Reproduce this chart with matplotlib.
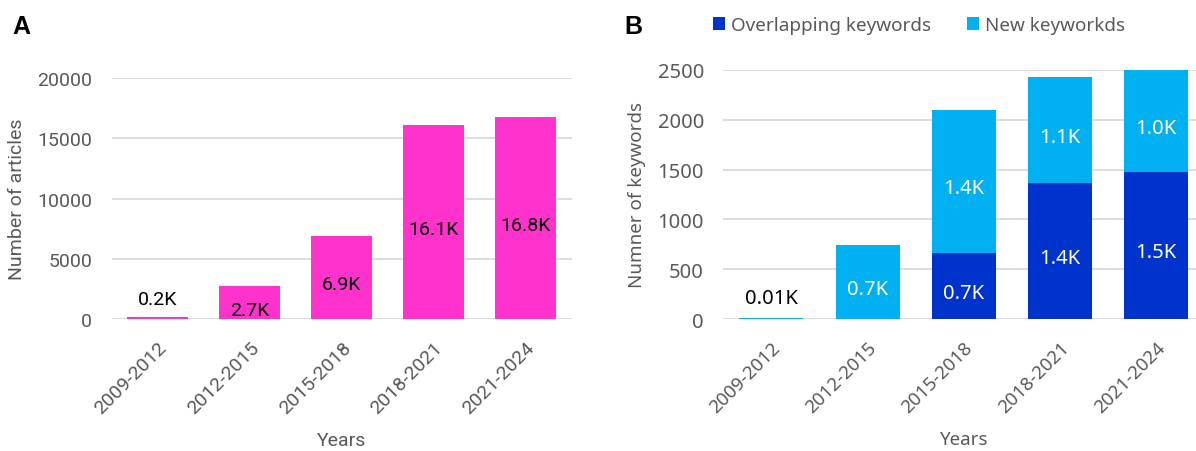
import matplotlib
matplotlib.use("Agg")
import matplotlib.pyplot as plt
import numpy as np

# Data
periods = ["2009-2012", "2012-2015", "2015-2018", "2018-2021", "2021-2024"]
articles = [200, 2700, 6900, 16100, 16800]
overlap_kw = [0, 0, 660, 1370, 1480]
new_kw = [10, 740, 1440, 1060, 1020]

article_ticks = [0, 5000, 10000, 15000, 20000]
keyword_ticks = [0, 500, 1000, 1500, 2000, 2500]

PINK = "#FF33CC"
DARK_BLUE = "#0033CC"
LIGHT_BLUE = "#00B0F0"
GRID = "#D9D9D9"
TXT = "#595959"


def kfmt(v):
    return f"{v/1000:.2f}K" if v < 100 else f"{v/1000:.1f}K"


fig = plt.figure(figsize=(11.96, 4.52), dpi=100)

fontA = ["Roboto", "DejaVu Sans"]
fontB = ["Noto Sans", "DejaVu Sans"]


def style_axes(ax, ticks, family, fs):
    ax.set_ylim(ticks[0], ticks[-1])
    ax.set_yticks(ticks)
    ax.set_xlim(-0.5, len(periods) - 0.5)
    ax.set_xticks(range(len(periods)))
    ax.set_xticklabels(periods, rotation=45, ha="right", rotation_mode="anchor",
                       family=family, fontsize=fs, color=TXT)
    for lab in ax.get_yticklabels():
        lab.set_family(family)
    ax.tick_params(axis="y", length=0, pad=14, labelsize=fs, labelcolor=TXT)
    ax.tick_params(axis="x", length=0, pad=14)
    for s in ax.spines.values():
        s.set_visible(False)
    ax.grid(axis="y", color=GRID, linewidth=1.3)
    ax.set_axisbelow(True)
    ax.set_xlabel("Years", family=family, fontsize=fs, color=TXT, labelpad=10)


x = np.arange(len(periods))

# Panel A: articles
fsA = 14
axA = fig.add_axes([0.0934, 0.292, 0.3846, 0.533])
axA.bar(x, articles, width=0.66, color=PINK, zorder=2)
style_axes(axA, article_ticks, fontA, fsA)
axA.set_ylabel("Number of articles", family=fontA, fontsize=fsA, color=TXT, labelpad=8)
top = article_ticks[-1]
for xi, v in zip(x, articles):
    if v < 0.05 * top:
        axA.annotate(kfmt(v), (xi, v), xytext=(0, 6), textcoords="offset points",
                     ha="center", va="bottom", fontsize=fsA, family=fontA, color="black")
    else:
        axA.annotate(kfmt(v), (xi, v / 2), xytext=(0, -5), textcoords="offset points",
                     ha="center", va="center", fontsize=fsA, family=fontA, color="black")
fig.text(0.010, 0.925, "A", fontsize=18, fontweight="bold", family=["Liberation Sans", "DejaVu Sans"])

# Panel B: keywords (stacked)
fsB = 13.5
axB = fig.add_axes([0.6048, 0.292, 0.402, 0.551])
axB.bar(x, overlap_kw, width=0.665, color=DARK_BLUE, zorder=2, label="Overlapping keywords")
axB.bar(x, new_kw, width=0.665, bottom=overlap_kw, color=LIGHT_BLUE, zorder=2,
        label="New keyworkds")
style_axes(axB, keyword_ticks, fontB, fsB)
axB.tick_params(axis="y", labelsize=14.5)
axB.set_ylabel("Numner of keywords", family=fontB, fontsize=fsB, color=TXT, labelpad=8)
topB = keyword_ticks[-1]
for xi, o, n in zip(x, overlap_kw, new_kw):
    if o > 0:
        axB.annotate(kfmt(o), (xi, o / 2), xytext=(0, -5), textcoords="offset points",
                     ha="center", va="center", fontsize=14.5, family=fontB, color="white")
    if n >= 0.05 * topB:
        axB.annotate(kfmt(n), (xi, o + n / 2), xytext=(0, -5), textcoords="offset points",
                     ha="center", va="center", fontsize=14.5, family=fontB, color="white")
    elif n > 0:
        axB.annotate(kfmt(o + n), (xi, o + n), xytext=(0, 7), textcoords="offset points",
                     ha="center", va="bottom", fontsize=14.5, family=fontB, color="black")
axB.legend(loc="center left", bbox_to_anchor=(0.5962, 0.942), bbox_transform=fig.transFigure,
           ncol=2, frameon=False, handlelength=0.65, handleheight=0.65, handletextpad=0.3,
           columnspacing=1.9, prop={"family": fontB, "size": 13.6}, labelcolor=TXT,
           borderaxespad=0, borderpad=0)
fig.text(0.522, 0.925, "B", fontsize=18, fontweight="bold", family=["Liberation Sans", "DejaVu Sans"])

fig.savefig("out.png", dpi=100, facecolor="white")
